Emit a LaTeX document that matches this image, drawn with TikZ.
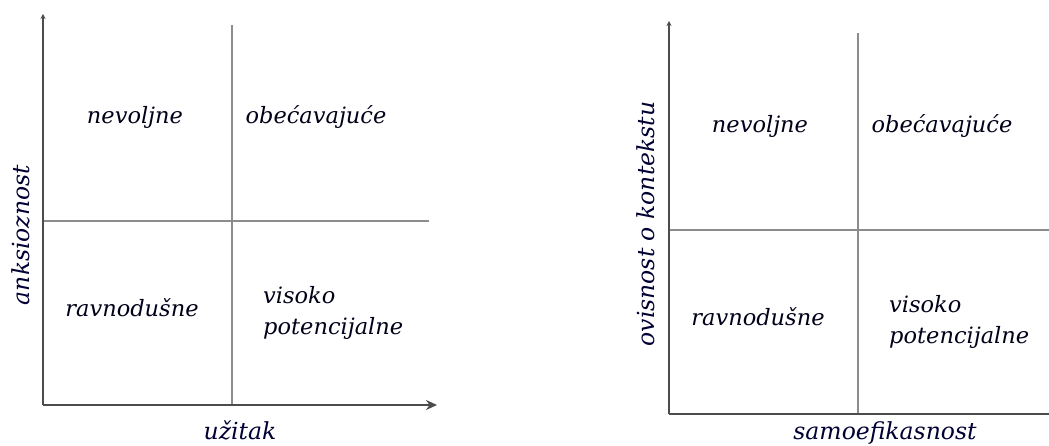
\documentclass[tikz,border=0pt]{standalone}
\usepackage{fontspec}
\setmainfont{DejaVu Serif}
\usepackage{tikz}
\usetikzlibrary{arrows.meta}

\tikzset{
  lbl/.style={font=\fontsize{22.5}{26}\selectfont\itshape, inner sep=0pt, text=black!90!blue},
  axlbl/.style={font=\fontsize{23.5}{27}\selectfont\itshape, inner sep=0pt, text=black!80!blue},
  axis/.style={line width=2.5pt, draw=black!70},
  split/.style={line width=1.6pt, draw=black!45}
}

\begin{document}
\begin{tikzpicture}
[x=1pt,y=-1pt]
\useasboundingbox (0,0) rectangle (1049,446);
% Left chart: axes and splits
\coordinate (LO)  at (43,405);
\coordinate (LY)  at (43,14);
\coordinate (LX)  at (437,405);
\coordinate (LVt) at (232,25);
\coordinate (LVb) at (232,405);
\coordinate (LHl) at (43,221);
\coordinate (LHr) at (429,221);

\node(La) [lbl] at (135,117) {nevoljne};
\node(Lb) [lbl] at (316,117) {obećavajuće};
\node(Lc) [lbl] at (132,308) {ravnodušne};
\node(Ld) [lbl,align=left,anchor=west] at (263,313) {visoko\\[5pt]potencijalne};

\node(Ly) [axlbl,rotate=90] at (21,235) {anksioznost};
\node(Lx) [axlbl] at (240,430) {užitak};

\draw[split]  (LVt) -- (LVb);
\draw[split]  (LHl) -- (LHr);
\draw[axis,-{Stealth[length=11pt,width=10pt]}] (LO) -- (LX);
\draw[axis,-{Stealth[length=5pt,width=5pt]}] (LO) -- (LY);

% Right chart: axes and splits
\coordinate (RO)  at (669,414);
\coordinate (RY)  at (669,21);
\coordinate (RX)  at (1049,414);
\coordinate (RVt) at (858,33);
\coordinate (RVb) at (858,414);
\coordinate (RHl) at (669,230);
\coordinate (RHr) at (1049,230);

\node(Ra) [lbl] at (760,126) {nevoljne};
\node(Rb) [lbl] at (942,126) {obećavajuće};
\node(Rc) [lbl] at (758,317) {ravnodušne};
\node(Rd) [lbl,align=left,anchor=west] at (889,322) {visoko\\[5pt]potencijalne};

\node(Ry) [axlbl,rotate=90] at (646,224) {ovisnost o kontekstu};
\node(Rx) [axlbl] at (885,433) {samoefikasnost};

\draw[split]  (RVt) -- (RVb);
\draw[split]  (RHl) -- (RHr);
\draw[axis]   (RO) -- (RX);
\draw[axis,-{Stealth[length=5pt,width=5pt]}] (RO) -- (RY);
\end{tikzpicture}
\end{document}
